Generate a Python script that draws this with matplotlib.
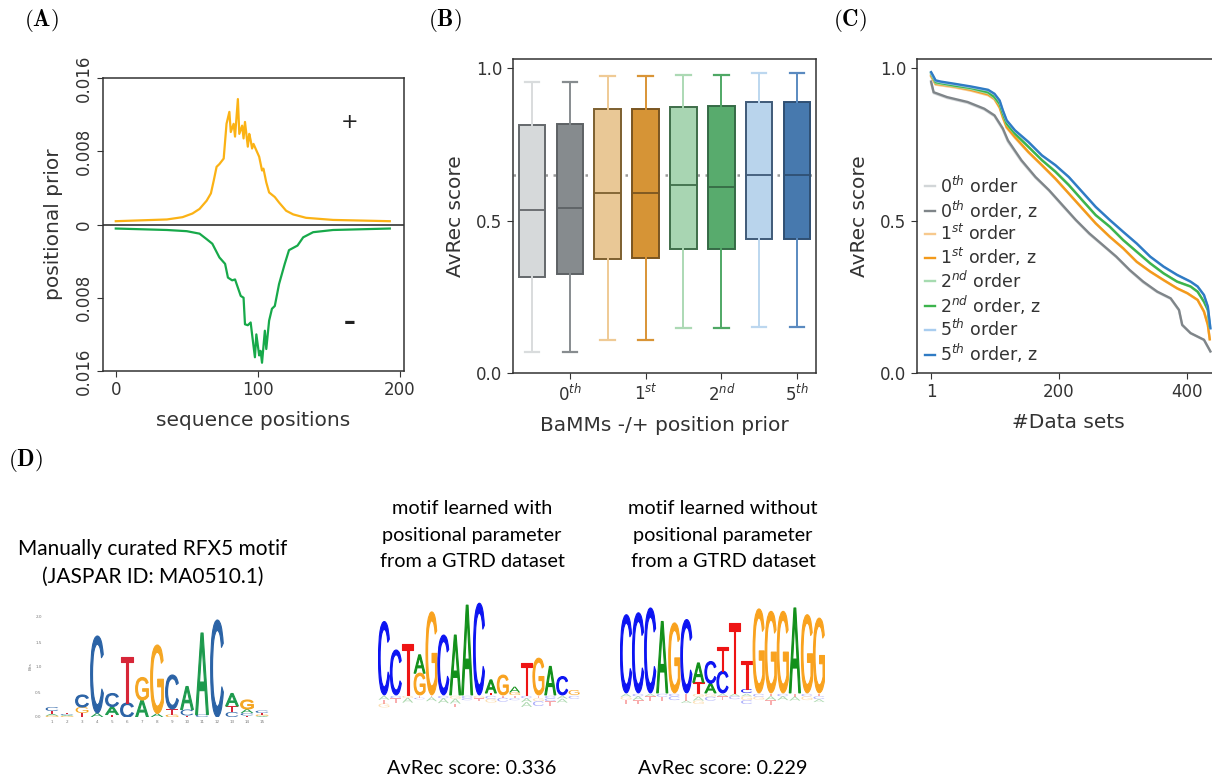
import numpy as np
import matplotlib.pyplot as plt
from matplotlib.textpath import TextPath
from matplotlib.patches import PathPatch
from matplotlib.font_manager import FontProperties
from matplotlib.transforms import Affine2D

# ---------------- data ----------------
# (A) positional prior, + strand and - strand
plus_pos = [0, 36, 47, 54, 59, 64, 67, 69, 71, 73, 76, 78, 80, 81, 83, 84, 86, 87, 89, 90,
            91, 93, 94, 95, 96, 97, 99, 101, 103, 104, 106, 108, 112, 115, 120, 125, 134, 153, 193]
plus_prior = [0.36, 0.55, 0.8, 1.2, 1.7, 2.6, 3.4, 4.8, 6.3, 6.6, 7.2, 11.0, 12.3, 10.1, 11.0, 9.6,
              13.7, 9.9, 10.8, 9.4, 11.2, 8.5, 9.9, 9.2, 8.3, 8.8, 8.1, 7.4, 5.9, 6.1, 4.6, 3.5,
              3.0, 2.4, 1.5, 1.1, 0.73, 0.5, 0.36]  # x 1e-3
minus_pos = [0, 36, 50, 59, 64, 68, 73, 77, 79, 82, 84, 86, 88, 90, 91, 93, 95, 96, 98, 99,
             101, 102, 103, 105, 106, 108, 110, 112, 115, 119, 122, 128, 132, 139, 153, 193]
minus_prior = [0.44, 0.6, 0.73, 1.0, 1.6, 2.1, 3.6, 4.3, 5.8, 6.1, 6.0, 6.9, 7.8, 8.0, 10.9, 11.0,
               10.7, 12.0, 14.5, 12.0, 14.3, 13.8, 15.1, 11.6, 13.6, 10.5, 9.2, 8.9, 6.5, 4.3,
               2.8, 2.3, 1.4, 0.84, 0.6, 0.44]  # x 1e-3

# (B) AvRec box statistics, BaMM order without / with position prior
box_whislo = [0.069, 0.069, 0.109, 0.109, 0.148, 0.146, 0.152, 0.152]
box_q1 = [0.314, 0.324, 0.373, 0.378, 0.407, 0.407, 0.438, 0.441]
box_med = [0.535, 0.540, 0.589, 0.591, 0.616, 0.611, 0.650, 0.649]
box_q3 = [0.815, 0.817, 0.866, 0.866, 0.871, 0.875, 0.888, 0.888]
box_whishi = [0.954, 0.954, 0.975, 0.975, 0.977, 0.979, 0.983, 0.983]
order_ticks = [r'$0^{th}$', r'$1^{st}$', r'$2^{nd}$', r'$5^{th}$']

# (C) sorted AvRec scores per data set
x_o0 = [1, 5, 26, 58, 84, 100, 113, 121, 142, 164, 185, 206, 227, 248, 269, 290, 311, 332,
        354, 375, 388, 393, 406, 427, 437]
y_o0 = [0.951, 0.918, 0.902, 0.886, 0.864, 0.842, 0.798, 0.758, 0.694, 0.640, 0.598, 0.548,
        0.500, 0.455, 0.418, 0.380, 0.336, 0.297, 0.265, 0.243, 0.205, 0.156, 0.130, 0.108, 0.070]
y_o0z = [0.956, 0.921, 0.905, 0.889, 0.867, 0.845, 0.802, 0.763, 0.698, 0.643, 0.600, 0.551,
         0.502, 0.458, 0.420, 0.382, 0.338, 0.300, 0.267, 0.245, 0.207, 0.158, 0.131, 0.109, 0.071]
x_o1 = [1, 8, 37, 63, 90, 100, 108, 113, 119, 132, 153, 174, 195, 216, 237, 258, 280, 301,
        322, 343, 364, 385, 401, 417, 427, 433, 436]
y_o1 = [0.972, 0.946, 0.937, 0.926, 0.911, 0.897, 0.869, 0.837, 0.804, 0.771, 0.723, 0.680,
        0.636, 0.588, 0.539, 0.490, 0.446, 0.408, 0.364, 0.332, 0.304, 0.277, 0.261, 0.239,
        0.200, 0.157, 0.110]
y_o1z = [0.976, 0.949, 0.940, 0.929, 0.914, 0.900, 0.872, 0.840, 0.807, 0.774, 0.725, 0.682,
         0.638, 0.589, 0.540, 0.491, 0.447, 0.409, 0.365, 0.333, 0.305, 0.278, 0.262, 0.240,
         0.202, 0.158, 0.111]
x_o2 = [1, 8, 37, 63, 90, 100, 108, 113, 119, 132, 153, 174, 195, 216, 237, 258, 280, 301,
        322, 343, 364, 385, 406, 417, 427, 433, 436]
y_o2 = [0.980, 0.951, 0.941, 0.932, 0.918, 0.902, 0.880, 0.848, 0.816, 0.784, 0.741, 0.699,
        0.662, 0.618, 0.566, 0.517, 0.479, 0.435, 0.397, 0.359, 0.326, 0.299, 0.283, 0.266,
        0.233, 0.206, 0.152]
y_o2z = [0.984, 0.954, 0.943, 0.935, 0.921, 0.905, 0.883, 0.851, 0.818, 0.785, 0.742, 0.698,
         0.660, 0.616, 0.567, 0.518, 0.480, 0.436, 0.398, 0.360, 0.327, 0.300, 0.284, 0.267,
         0.234, 0.207, 0.153]
x_o5 = [1, 4, 8, 16, 37, 63, 90, 100, 108, 113, 119, 132, 153, 174, 195, 216, 237, 258, 280,
        301, 322, 343, 364, 385, 406, 417, 427, 433, 437]
y_o5 = [0.984, 0.973, 0.958, 0.954, 0.947, 0.938, 0.927, 0.914, 0.892, 0.860, 0.827, 0.794,
        0.756, 0.713, 0.681, 0.642, 0.593, 0.544, 0.501, 0.462, 0.424, 0.381, 0.348, 0.321,
        0.299, 0.283, 0.255, 0.217, 0.146]
y_o5z = [0.987, 0.976, 0.960, 0.956, 0.949, 0.940, 0.929, 0.916, 0.894, 0.862, 0.829, 0.796,
         0.758, 0.714, 0.682, 0.643, 0.594, 0.545, 0.502, 0.463, 0.425, 0.382, 0.349, 0.322,
         0.300, 0.284, 0.256, 0.218, 0.147]

# (D) sequence logos: letters bottom-to-top and their heights in bits
rfx5_letters = ['GATC', 'GACT', 'TGC', 'AC', 'TAC', 'CT', 'AG', 'AG', 'GTC', 'TCA', 'CA', 'C',
                'CTA', 'TCAG', 'AGTC']
rfx5_bits = [[0.03, 0.03, 0.06, 0.08], [0.02, 0.02, 0.02, 0.03], [0.08, 0.12, 0.24], [0.08, 1.54],
             [0.05, 0.16, 0.26], [0.28, 0.93], [0.34, 0.45], [0.07, 1.37], [0.05, 0.11, 0.68],
             [0.03, 0.12, 0.46], [0.05, 1.63], [1.94], [0.10, 0.12, 0.25], [0.03, 0.05, 0.08, 0.18],
             [0.02, 0.03, 0.03, 0.05]]

with_letters = ['C', 'C', 'T', 'GA', 'G', 'C', 'A', 'A', 'C', 'TA', 'G', 'GA', 'T', 'G', 'A', 'C', 'G']
with_bits = [[1.52], [0.93], [1.05], [0.45, 0.38], [1.72], [1.24], [1.24], [1.86], [1.90],
             [0.04, 0.27], [0.41], [0.05, 0.12], [0.66], [0.76], [0.59], [0.38], [0.10]]
with_low_letters = ['ATG', 'CT', 'GA', 'TC', 'TA', 'CA', 'GAT', 'CC', 'GT', 'CG', 'TC', 'TC',
                    'CAA', 'TGC', 'CCT', 'AA', 'C']
with_low_bits = [[0.08, 0.08, 0.08], [0.05, 0.10], [0.04, 0.10], [0.04, 0.03], [0.03, 0.08],
                 [0.05, 0.10], [0.06, 0.10, 0.08], [0.05, 0.04], [0.05, 0.05], [0.06, 0.08],
                 [0.04, 0.08], [0.05, 0.04], [0.05, 0.08, 0.10], [0.05, 0.06, 0.10],
                 [0.05, 0.06, 0.10], [0.06, 0.08], [0.06]]

without_letters = ['C', 'C', 'C', 'A', 'G', 'C', 'TA', 'AC', 'CT', 'T', 'CT', 'G', 'G', 'G', 'A', 'G', 'G']
without_bits = [[1.62], [1.66], [1.76], [1.48], [1.45], [1.52], [0.22, 0.40], [0.20, 0.45],
                [0.45, 0.50], [1.45], [0.08, 0.58], [1.74], [1.69], [1.69], [1.76], [1.62], [1.55]]
without_low_letters = ['AGT', 'CAT', 'AT', 'CT', 'CC', 'TTA', 'GAG', 'GC', 'AT', 'AC', 'AGC',
                       'CG', 'TAT', 'CA', 'TA', 'CG', 'TCA']
without_low_bits = [[0.06, 0.06, 0.10], [0.05, 0.08, 0.08], [0.05, 0.10], [0.06, 0.08],
                    [0.05, 0.08], [0.06, 0.08, 0.05], [0.06, 0.08, 0.07], [0.06, 0.08],
                    [0.05, 0.08], [0.05, 0.06], [0.05, 0.08, 0.08], [0.06, 0.06],
                    [0.05, 0.08, 0.10], [0.05, 0.08], [0.06, 0.08], [0.05, 0.08], [0.05, 0.06, 0.06]]

# ---------------- style ----------------
grey_txt = '#333333'
plt.rcParams['font.family'] = ['DejaVu Sans']
plt.rcParams['text.color'] = grey_txt
plt.rcParams['axes.edgecolor'] = grey_txt
plt.rcParams['axes.labelcolor'] = grey_txt
plt.rcParams['xtick.color'] = grey_txt
plt.rcParams['ytick.color'] = grey_txt
plt.rcParams['axes.linewidth'] = 1.1
plt.rcParams['xtick.labelsize'] = 12
plt.rcParams['ytick.labelsize'] = 12
plt.rcParams['axes.labelsize'] = 14.5
plt.rcParams['xtick.major.size'] = 4
plt.rcParams['ytick.major.size'] = 4

W, H = 1212, 780
fig = plt.figure(figsize=(W / 100, H / 100), dpi=100)


def add_ax(left, top, right, bottom):
    return fig.add_axes([left / W, 1 - bottom / H, (right - left) / W, (bottom - top) / H])


def panel_label(x, y, s):
    fig.text(x / W, 1 - y / H, r'$\mathbf{(%s)}$' % s, math_fontfamily='cm',
             fontsize=16.5, color='black', ha='left', va='center')


# ---------------- (A) ----------------
axA = add_ax(103, 78, 404, 371)
axA.plot(plus_pos, np.array(plus_prior) * 1e-3, color='#fbb215', lw=1.6)
axA.plot(minus_pos, -np.array(minus_prior) * 1e-3, color='#17a94a', lw=1.6)
axA.axhline(0, color='#222222', lw=1.1)
axA.set_xlim(-9, 203)
axA.set_ylim(-0.016, 0.016)
axA.set_xticks([0, 100, 200])
axA.set_yticks([-0.016, -0.008, 0, 0.008, 0.016])
axA.set_yticklabels(['0.016', '0.008', '0', '0.008', '0.016'], rotation=90, va='center')
axA.text(165, 0.0112, '+', fontsize=15, ha='center', va='center', color='#222222')
axA.text(165, -0.0107, '\u2013', fontsize=17, fontweight='bold', ha='center', va='center',
         color='#222222')
axA.set_xlabel('sequence positions', labelpad=8)
axA.set_ylabel('positional prior', labelpad=8)
panel_label(24, 20, 'A')

# ---------------- (B) ----------------
axB = add_ax(513, 59, 816, 373)
fills = ['#d6d9da', '#868b8e', '#e9c896', '#d69436', '#a8d5b2', '#58ab6d', '#b9d4ec', '#4779ae']
edges = ['#64686b', '#5d6164', '#7d6030', '#7a5520', '#3f6e4a', '#356a45', '#3f5a78', '#2f4f73']
whisk = ['#d9dcdd', '#878c8f', '#efca95', '#d99436', '#acd9b4', '#4fa865', '#bcd7ef', '#5a8ac0']
stats = []
for i in range(len(box_med)):
    stats.append(dict(whislo=box_whislo[i], q1=box_q1[i], med=box_med[i], q3=box_q3[i],
                      whishi=box_whishi[i], label=''))
bp = axB.bxp(stats, positions=range(len(stats)), widths=0.7, capwidths=0.38, patch_artist=True,
             showfliers=False, manage_ticks=False)
for i, box in enumerate(bp['boxes']):
    box.set_facecolor(fills[i])
    box.set_edgecolor(edges[i])
    box.set_linewidth(1.4)
    bp['medians'][i].set_color(edges[i])
    bp['medians'][i].set_linewidth(1.3)
    for k in (2 * i, 2 * i + 1):
        bp['whiskers'][k].set_color(whisk[i])
        bp['whiskers'][k].set_linewidth(1.4)
        bp['caps'][k].set_color(whisk[i])
        bp['caps'][k].set_linewidth(1.6)
axB.axhline(box_med[-1], color='#9a9a9a', lw=1.8, ls=(0, (1, 2.2)), zorder=0.5)
axB.set_xlim(-0.5, 7.5)
axB.set_ylim(0, 1.03)
axB.set_yticks([0, 0.5, 1.0])
axB.set_xticks([1, 3, 5, 7])
axB.set_xticklabels(order_ticks)
axB.set_ylabel('AvRec score', labelpad=8)
axB.set_xlabel('BaMMs -/+ position prior', labelpad=8)
panel_label(428, 20, 'B')

# ---------------- (C) ----------------
axC = add_ax(917, 59, 1220, 373)
curves = [
    (x_o0, y_o0, '#d2d6d8', r'$0^{th}$ order'),
    (x_o0, y_o0z, '#7f8589', r'$0^{th}$ order, z'),
    (x_o1, y_o1, '#f7c98d', r'$1^{st}$ order'),
    (x_o1, y_o1z, '#f39a1b', r'$1^{st}$ order, z'),
    (x_o2, y_o2, '#a6dbb0', r'$2^{nd}$ order'),
    (x_o2, y_o2z, '#3cb44c', r'$2^{nd}$ order, z'),
    (x_o5, y_o5, '#a9cdef', r'$5^{th}$ order'),
    (x_o5, y_o5z, '#2f7bc4', r'$5^{th}$ order, z'),
]
for xs, ys, col, lab in curves:
    axC.plot(xs, ys, color=col, lw=1.7, label=lab)
axC.set_xlim(-21, 452)
axC.set_ylim(0, 1.03)
axC.set_xticks([1, 200, 400])
axC.set_yticks([0, 0.5, 1.0])
axC.set_ylabel('AvRec score', labelpad=8)
axC.set_xlabel('#Data sets', labelpad=8)
axC.legend(loc='lower left', frameon=False, fontsize=12.5, handlelength=0.6,
           handletextpad=0.25, labelspacing=0.12, borderaxespad=0.1, borderpad=0.35)
panel_label(833, 20, 'C')

# ---------------- (D) ----------------
panel_label(8, 460, 'D')

logo_font = FontProperties(family='Liberation Sans')
glyph_cache = {}


def draw_letter(ax, ch, xc, y0, w, h, color, alpha=1.0):
    if ch not in glyph_cache:
        glyph_cache[ch] = TextPath((0, 0), ch, size=1, prop=logo_font)
    path = glyph_cache[ch]
    bb = path.get_extents()
    tr = (Affine2D().translate(-bb.x0, -bb.y0)
          .scale(w / bb.width, h / bb.height)
          .translate(xc - w / 2, y0))
    # a thin outline in the fill colour thickens the vertical stems
    lw = 0.8 if h > 0.15 else 0
    ax.add_patch(PathPatch(tr.transform_path(path), facecolor=color, edgecolor=color,
                           alpha=alpha, lw=lw, joinstyle='round'))


def draw_logo(ax, letters, bits, colors, width, low_letters=None, low_bits=None):
    for i, (seq, hs) in enumerate(zip(letters, bits)):
        y = 0.0
        for ch, h in zip(seq, hs):
            draw_letter(ax, ch, i + 1, y, width, h, colors[ch])
            y += h
    if low_letters:
        for i, (seq, hs) in enumerate(zip(low_letters, low_bits)):
            y = -0.02
            for ch, h in zip(seq, hs):
                draw_letter(ax, ch, i + 1, y - h, width, h, colors[ch], alpha=0.35)
                y -= h


jaspar_cols = {'A': '#1d9a4d', 'C': '#2b63a6', 'G': '#f5a623', 'T': '#d72638'}
bamm_cols = {'A': '#12901a', 'C': '#0c14f2', 'G': '#f9a21e', 'T': '#ee1414'}

# JASPAR logo with its small axes
axL1 = add_ax(44.5, 614.5, 269.5, 717)
draw_logo(axL1, rfx5_letters, rfx5_bits, jaspar_cols, 0.85)
axL1.set_xlim(0.5, len(rfx5_letters) + 0.5)
axL1.set_ylim(0, 2.05)
for sp in axL1.spines.values():
    sp.set_visible(False)
axL1.set_xticks(range(1, len(rfx5_letters) + 1))
axL1.set_yticks([0, 0.5, 1.0, 1.5, 2.0])
axL1.tick_params(length=0, labelsize=3, colors='#777777', pad=2)
axL1.set_ylabel('Bits', fontsize=3, color='#777777', labelpad=2)

# learned logos
axL2 = add_ax(378, 598.4, 580, 719)
draw_logo(axL2, with_letters, with_bits, bamm_cols, 0.92, with_low_letters, with_low_bits)
axL3 = add_ax(620, 596.4, 825, 717)
draw_logo(axL3, without_letters, without_bits, bamm_cols, 0.92, without_low_letters,
          without_low_bits)
for ax in (axL2, axL3):
    ax.set_xlim(0.5, 17.5)
    ax.set_ylim(-0.5, 2.0)
    ax.axis('off')

d_font = dict(family=['Lato', 'DejaVu Sans'], color='black', ha='center', va='center')
fig.text(153 / W, 1 - 563 / H, 'Manually curated RFX5 motif\n(JASPAR ID: MA0510.1)',
         fontsize=15, linespacing=1.5, **d_font)
fig.text(472 / W, 1 - 535 / H, 'motif learned with\npositional parameter\nfrom a GTRD dataset',
         fontsize=14.3, linespacing=1.65, **d_font)
fig.text(723 / W, 1 - 535 / H, 'motif learned without\npositional parameter\nfrom a GTRD dataset',
         fontsize=14.3, linespacing=1.65, **d_font)
fig.text(472 / W, 1 - 768 / H, 'AvRec score: 0.336', fontsize=14.3, **d_font)
fig.text(723 / W, 1 - 768 / H, 'AvRec score: 0.229', fontsize=14.3, **d_font)

fig.savefig('out.png', dpi=100)
